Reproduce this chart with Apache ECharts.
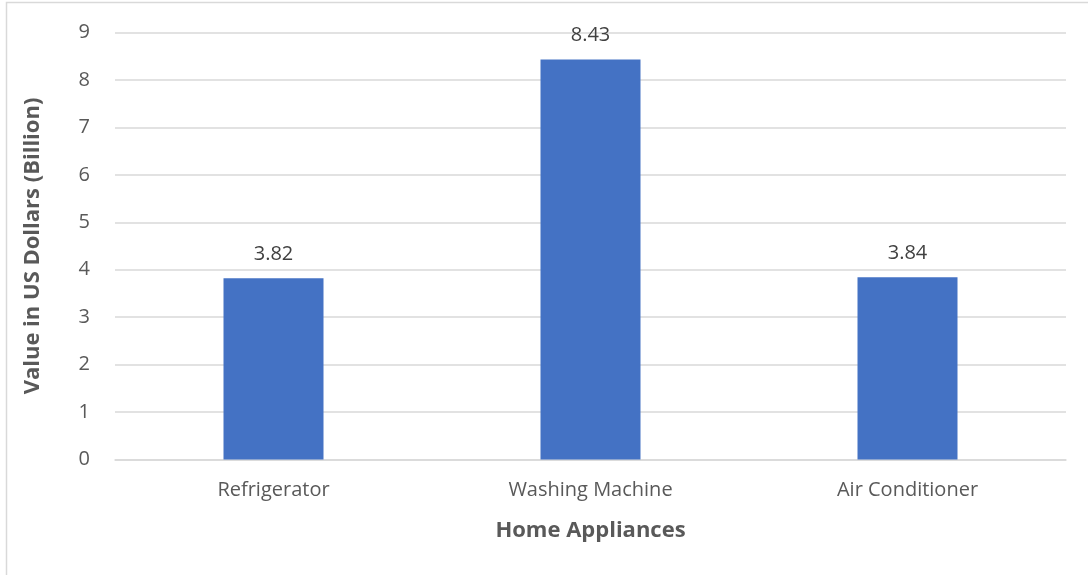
<!DOCTYPE html>
<html>
<head>
<meta charset="utf-8">
<script src="https://cdn.jsdelivr.net/npm/echarts@6/dist/echarts.min.js"></script>
<style>html,body{margin:0;padding:0;background:#fff}#c{width:1088px;height:575px}</style>
</head>
<body>
<div id="c"></div>
<script>
const categories = ['Refrigerator', 'Washing Machine', 'Air Conditioner'];
const values = [3.82, 8.43, 3.84];
const yTicks = [0, 1, 2, 3, 4, 5, 6, 7, 8, 9];
const xTitle = 'Home Appliances';
const yTitle = 'Value in US Dollars (Billion)';

const FONT = '"Open Sans", "Noto Sans", sans-serif';
const chart = echarts.init(document.getElementById('c'), null, {renderer: 'canvas'});
chart.setOption({
  animation: false,
  backgroundColor: '#fff',
  graphic: [{
    type: 'rect', silent: true,
    shape: {x: 6.5, y: 2.5, width: 1100, height: 600},
    style: {fill: 'none', stroke: '#d9d9d9', lineWidth: 1.5}
  }],
  grid: {left: 115, right: 22, top: 32.5, bottom: 115.5, containLabel: false},
  xAxis: {
    type: 'category',
    data: categories,
    name: xTitle,
    nameLocation: 'middle',
    nameGap: 60,
    nameTextStyle: {fontFamily: FONT, fontSize: 22, fontWeight: 'bold', color: '#595959'},
    axisLine: {lineStyle: {color: '#d9d9d9', width: 1.5}},
    axisTick: {show: false},
    axisLabel: {fontFamily: FONT, fontSize: 20, color: '#595959', margin: 21}
  },
  yAxis: {
    type: 'value',
    min: yTicks[0],
    max: yTicks[yTicks.length - 1],
    interval: 1,
    name: yTitle,
    nameLocation: 'middle',
    nameGap: 71,
    nameTextStyle: {fontFamily: FONT, fontSize: 22, fontWeight: 'bold', color: '#595959'},
    axisLine: {show: false},
    axisTick: {show: false},
    splitLine: {lineStyle: {color: '#d9d9d9', width: 1.5}},
    axisLabel: {fontFamily: FONT, fontSize: 20, color: '#595959', margin: 25}
  },
  series: [{
    type: 'bar',
    data: values,
    barWidth: 100,
    itemStyle: {color: '#4472c4'},
    label: {
      show: true, position: 'top', distance: 14,
      fontFamily: FONT, fontSize: 20, color: '#404040',
      formatter: p => p.value.toFixed(2)
    }
  }]
});
</script>
</body>
</html>
